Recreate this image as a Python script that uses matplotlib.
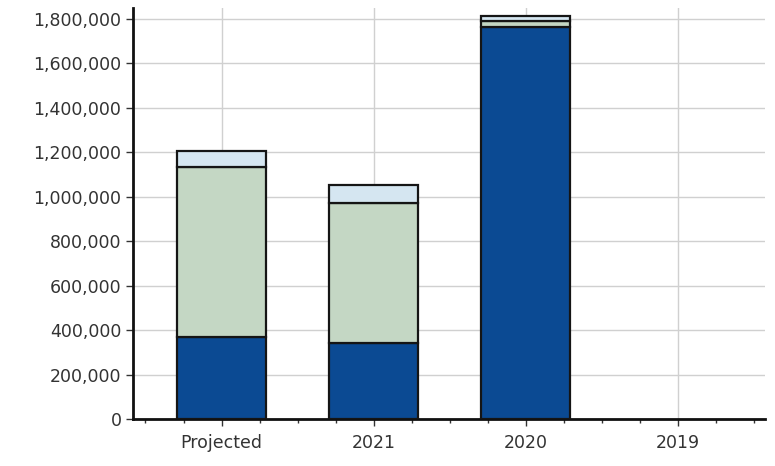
import numpy as np
import matplotlib.pyplot as plt
from matplotlib.ticker import FuncFormatter, MultipleLocator

categories = ['Projected', '2021', '2020', '2019']
base = [369000, 342000, 1765000, 0]
middle = [765000, 630000, 25000, 0]
top = [72000, 81000, 25000, 0]

blue = '#0b4a93'
green = '#c4d7c4'
light = '#d5e6f1'
edge = '#151515'

fig = plt.figure(figsize=(7.75, 4.66), dpi=100)
ax = fig.add_axes([0.172, 0.101, 0.815, 0.882])

x = np.arange(len(categories))
w = 0.585
b1 = np.array(base)
b2 = b1 + np.array(middle)
# no outline on empty bars (2019)
lw = [1.6 if v > 0 else 0 for v in b2 + np.array(top)]
ax.bar(x, base, w, color=blue, edgecolor=edge, linewidth=lw, zorder=3)
ax.bar(x, middle, w, bottom=b1, color=green, edgecolor=edge, linewidth=lw, zorder=3)
ax.bar(x, top, w, bottom=b2, color=light, edgecolor=edge, linewidth=lw, zorder=3)

ax.set_xlim(-0.58, 3.57)
ax.set_ylim(0, 1850000)
ax.set_xticks(x)
ax.set_xticklabels(categories)
ax.xaxis.set_minor_locator(MultipleLocator(0.25))
ax.set_yticks(np.arange(0, 1800001, 200000))
ax.yaxis.set_major_formatter(FuncFormatter(lambda v, p: f'{int(v):,}'))

ax.grid(True, color='#d0d0d0', linewidth=1, zorder=0)
ax.set_axisbelow(True)
for s in ['top', 'right']:
    ax.spines[s].set_visible(False)
ax.spines['left'].set_linewidth(2)
ax.spines['bottom'].set_linewidth(2)
ax.spines['left'].set_color('#111111')
ax.spines['bottom'].set_color('#111111')

ax.tick_params(axis='both', which='major', labelsize=12.5, colors='#333333', length=5, width=1)
ax.tick_params(axis='x', which='minor', length=3, width=1, color='#333333')
ax.tick_params(axis='x', which='major', pad=6)

plt.savefig('out.png', dpi=100)
